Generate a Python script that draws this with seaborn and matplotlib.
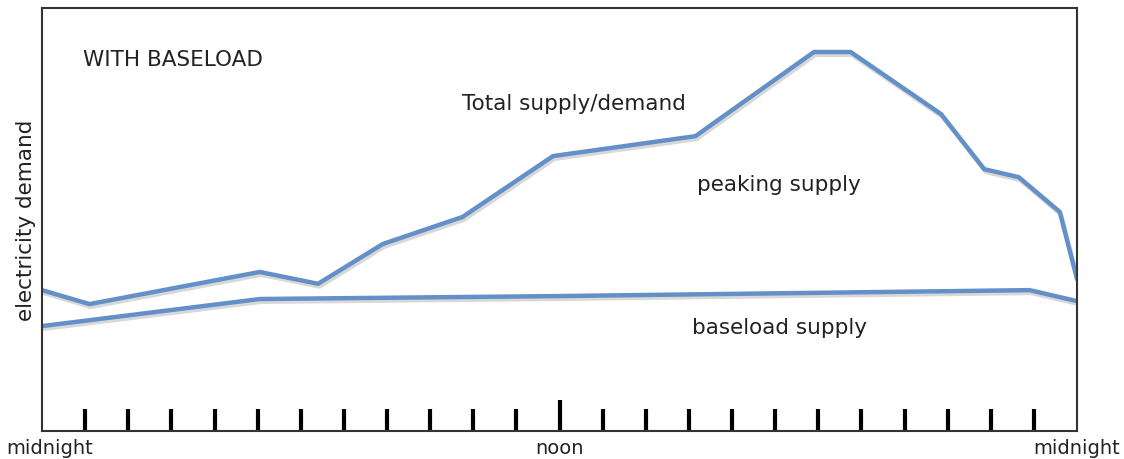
import pandas as pd
import seaborn as sns
import matplotlib.patheffects as pe
import matplotlib.transforms as mtransforms
from matplotlib import pyplot as plt

# hours after midnight, demand in arbitrary units (0-100)
total_hours = [0, 1.1, 5.05, 6.4, 7.9, 9.75, 11.85, 15.15, 17.9, 18.75, 20.85, 21.85, 22.65, 23.6, 24]
total_demand = [33.3, 30.0, 37.6, 34.8, 44.2, 50.6, 65.0, 69.7, 89.6, 89.6, 74.9, 61.9, 60.0, 51.8, 35.9]

base_hours = [0, 5.05, 12, 22.9, 24]
base_demand = [24.8, 31.2, 31.9, 33.3, 30.7]

hour_ticks = [h for h in range(1, 24) if h != 12]
label_ticks = [0, 12, 24]
tick_labels = ["midnight", "noon", "midnight"]

df_total = pd.DataFrame({"hour": total_hours, "demand": total_demand})
df_base = pd.DataFrame({"hour": base_hours, "demand": base_demand})

sns.set_style("white")
plt.rcParams["font.family"] = ["DejaVu Sans"]

fig = plt.figure(figsize=(11.24, 4.60), dpi=100)
ax = fig.add_axes([0.0374, 0.0609, 0.9208, 0.9195])

line_color = "#6490c8"
shadow = [pe.SimpleLineShadow(offset=(1, -2), shadow_color="#aaaaaa", alpha=0.45), pe.Normal()]
sns.lineplot(data=df_total, x="hour", y="demand", ax=ax, color=line_color, lw=3.2,
             sort=False, path_effects=shadow)
sns.lineplot(data=df_base, x="hour", y="demand", ax=ax, color=line_color, lw=3.2,
             sort=False, path_effects=shadow)

ax.set_xlim(0, 24)
ax.set_ylim(0, 100)
ax.set_yticks([])
ax.set_xlabel("")
ax.set_ylabel("electricity demand", fontsize=15.5, labelpad=4, color="#222222")

ax.set_xticks(label_ticks)
ax.set_xticklabels(tick_labels)
ax.set_xticks(hour_ticks, minor=True)
ax.tick_params(axis="x", which="both", bottom=True)
ax.tick_params(axis="x", which="major", direction="in", length=22, width=3, color="black",
               pad=5, labelsize=14, labelcolor="#222222")
ax.tick_params(axis="x", which="minor", direction="in", length=16, width=3, color="black")
ticks = ax.xaxis.get_major_ticks()
ticks[0].tick1line.set_visible(False)
ticks[2].tick1line.set_visible(False)
# left "midnight" sits a little to the right of the axis edge
shift = mtransforms.ScaledTranslation(8 / 100, 0, fig.dpi_scale_trans)
lbl = ax.get_xticklabels()[0]
lbl.set_transform(lbl.get_transform() + shift)

for s in ax.spines.values():
    s.set_color("#333333")
    s.set_linewidth(1.5)

ax.text(0.95, 88, "WITH BASELOAD", fontsize=15.5, color="#222222", va="center")
ax.text(9.74, 77.5, "Total supply/demand", fontsize=15.5, color="#222222", va="center")
ax.text(15.19, 58.5, "peaking supply", fontsize=15.5, color="#222222", va="center")
ax.text(15.07, 24.5, "baseload supply", fontsize=15.5, color="#222222", va="center")

plt.savefig("out.png", dpi=100)
plt.close()
